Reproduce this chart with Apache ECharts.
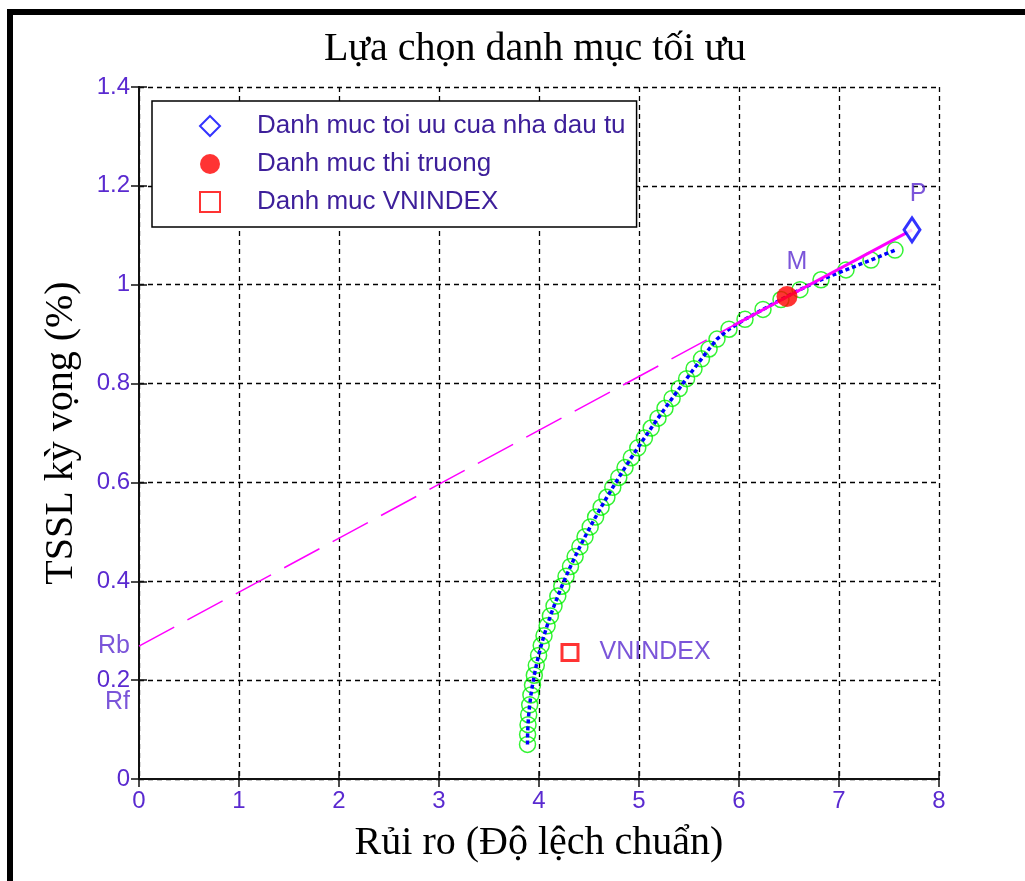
<!DOCTYPE html>
<html>
<head>
<meta charset="utf-8">
<script src="https://cdn.jsdelivr.net/npm/echarts@6/dist/echarts.min.js"></script>
<style>
html,body{margin:0;padding:0;background:#fff;}
#main{width:1025px;height:881px;}
</style>
</head>
<body>
<div id="main"></div>
<script>
// ---- data ----
const frontierRisk = [3.885,3.886,3.890,3.897,3.907,3.919,3.935,3.953,3.973,3.996,
  4.022,4.050,4.081,4.114,4.150,4.188,4.228,4.270,4.315,4.361,
  4.409,4.460,4.512,4.566,4.621,4.679,4.738,4.798,4.860,4.923,
  4.988,5.054,5.122,5.190,5.260,5.331,5.403,5.476,5.550,5.625,
  5.701,5.780,5.900,6.060,6.240,6.420,6.610,6.820,7.070,7.320,7.560];
const frontierReturn = [0.07,0.09,0.11,0.13,0.15,0.17,0.19,0.21,0.23,0.25,
  0.27,0.29,0.31,0.33,0.35,0.37,0.39,0.41,0.43,0.45,
  0.47,0.49,0.51,0.53,0.55,0.57,0.59,0.61,0.63,0.65,
  0.67,0.69,0.71,0.73,0.75,0.77,0.79,0.81,0.83,0.85,
  0.87,0.89,0.91,0.93,0.95,0.97,0.99,1.01,1.03,1.05,1.07];
const cmlDashed = [[0, 0.269], [6.48, 0.976]];
const cmlSolid = [[5.95, 0.918], [7.73, 1.111]];
const pointP = [7.73, 1.111];
const pointM = [6.48, 0.976];
const pointVNINDEX = [4.31, 0.256];
const rateLabels = [{name: 'Rb', value: [0, 0.269]}, {name: 'Rf', value: [0, 0.156]}];
const legendNames = ['Danh muc toi uu cua nha dau tu', 'Danh muc thi truong', 'Danh muc VNINDEX'];
const titleText = 'Lựa chọn danh mục tối ưu';
const xName = 'Rủi ro (Độ lệch chuẩn)';
const yName = 'TSSL kỳ vọng (%)';

const frontier = frontierRisk.map((r, i) => [r, frontierReturn[i]]);

const purple = '#5a2ad0';
const sans = 'Liberation Sans, Arial, sans-serif';
const serif = 'Liberation Serif, Times New Roman, serif';

const chart = echarts.init(document.getElementById('main'), null, {renderer: 'canvas'});
const gridLine = {show: true, lineStyle: {color: '#000', type: [5, 4], width: 1.3}};
const axisLineStyle = {show: true, lineStyle: {color: '#111', width: 2}};
const tickStyle = {show: true, inside: true, length: 8, lineStyle: {color: '#111', width: 1.5}};

chart.setOption({
  backgroundColor: '#fff',
  animation: false,
  title: {
    text: titleText, left: 535, top: 29, textAlign: 'center', padding: 0,
    textStyle: {fontFamily: serif, fontSize: 40, fontWeight: 'normal', color: '#000'}
  },
  graphic: [
    {type: 'rect', left: 7, top: 9, shape: {width: 1018, height: 6}, style: {fill: '#000'}},
    {type: 'rect', left: 7, top: 9, shape: {width: 6, height: 872}, style: {fill: '#000'}}
  ],
  legend: {
    orient: 'vertical', left: 152, top: 101,
    padding: [12, 11, 12, 47],
    itemWidth: 20, itemHeight: 20, itemGap: 12,
    backgroundColor: '#fff', borderColor: '#000', borderWidth: 1.5,
    textStyle: {fontFamily: sans, fontSize: 26, color: '#3d1f9a', padding: [0, 0, 0, 32], lineHeight: 24},
    data: [
      {name: legendNames[0], icon: 'diamond'},
      {name: legendNames[1], icon: 'circle'},
      {name: legendNames[2], icon: 'rect'}
    ]
  },
  grid: {left: 139, top: 87, width: 800, height: 692, show: false},
  xAxis: [{
    type: 'value', min: 0, max: 8, interval: 1, position: 'bottom',
    name: xName, nameLocation: 'middle', nameGap: 44,
    nameTextStyle: {fontFamily: serif, fontSize: 40, color: '#000'},
    axisLine: axisLineStyle, axisTick: tickStyle,
    axisLabel: {fontFamily: sans, fontSize: 24, color: purple, margin: 10},
    splitLine: gridLine
  }, {
    type: 'value', min: 0, max: 8, interval: 1, position: 'top',
    axisLine: axisLineStyle, axisTick: tickStyle,
    axisLabel: {show: false}, splitLine: {show: false}
  }],
  yAxis: [{
    type: 'value', min: 0, max: 1.4, interval: 0.2, position: 'left',
    name: yName, nameLocation: 'middle', nameGap: 58, nameRotate: 90,
    nameTextStyle: {fontFamily: serif, fontSize: 40, color: '#000'},
    axisLine: axisLineStyle, axisTick: tickStyle,
    axisLabel: {fontFamily: sans, fontSize: 24, color: purple, margin: 9},
    splitLine: gridLine
  }, {
    type: 'value', min: 0, max: 1.4, interval: 0.2, position: 'right',
    axisLine: axisLineStyle, axisTick: tickStyle,
    axisLabel: {show: false}, splitLine: {show: false}
  }],
  series: [
    {
      name: 'circles', type: 'scatter', data: frontier, symbol: 'circle', symbolSize: 16,
      itemStyle: {color: 'rgba(0,0,0,0)', borderColor: '#00f000', borderWidth: 1.5}, z: 2,
      silent: true
    },
    {
      name: 'frontier', type: 'line', data: frontier, showSymbol: false, symbol: 'none',
      lineStyle: {color: '#0000ff', width: 3.5, type: [4, 3]}, z: 3
    },
    {
      name: 'cml', type: 'line', data: cmlDashed, showSymbol: false, symbol: 'none',
      lineStyle: {color: '#ff00ff', width: 1.5, type: [40, 15]}, z: 4
    },
    {
      name: 'cml2', type: 'line', data: cmlSolid, showSymbol: false, symbol: 'none',
      lineStyle: {color: '#ff00ff', width: 3}, z: 4
    },
    {
      name: legendNames[0], type: 'scatter', data: [pointP], symbol: 'diamond', symbolSize: [16, 24],
      itemStyle: {color: '#fff', borderColor: '#0000ff', borderWidth: 3}, z: 6,
      label: {show: true, formatter: 'P', position: 'top', offset: [6, -4], fontFamily: sans, fontSize: 25, color: purple}
    },
    {
      name: legendNames[1], type: 'scatter', data: [pointM], symbol: 'circle', symbolSize: 21,
      itemStyle: {color: '#ff0000'}, z: 6,
      label: {show: true, formatter: 'M', position: 'top', offset: [10, -6], fontFamily: sans, fontSize: 25, color: purple}
    },
    {
      name: legendNames[2], type: 'scatter', data: [pointVNINDEX], symbol: 'rect', symbolSize: 16,
      itemStyle: {color: '#fff', borderColor: '#ff0000', borderWidth: 3}, z: 6,
      label: {show: true, formatter: 'VNINDEX', position: 'right', distance: 20, fontFamily: sans, fontSize: 25, color: purple}
    },
    {
      name: 'rates', type: 'scatter', data: rateLabels, symbolSize: 0, z: 6, silent: true,
      label: {show: true, formatter: p => p.name, position: 'left', distance: 9, fontFamily: sans, fontSize: 25, color: purple}
    }
  ]
});
</script>
</body>
</html>
